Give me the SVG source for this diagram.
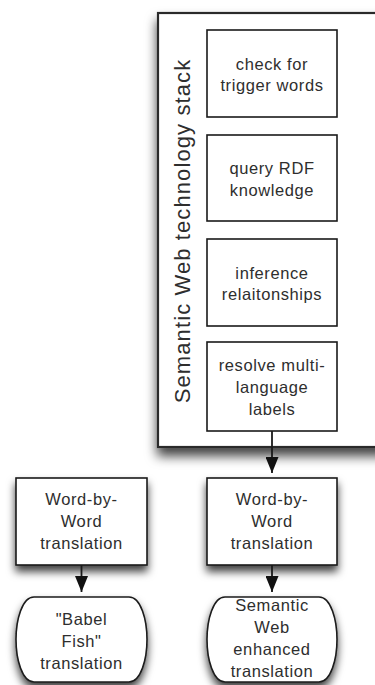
<svg xmlns="http://www.w3.org/2000/svg" width="375" height="685" viewBox="0 0 375 685">
  <defs>
    <style>
      .box { fill: #fff; stroke: #1a1a1a; stroke-width: 1.6; }
      .frame { fill: #fff; stroke: #2a2a2a; stroke-width: 2.2; }
      .lbl { font-family: "Liberation Sans", Arial, Helvetica, sans-serif; font-size: 16.5px; fill: #2e2e2e; text-anchor: middle; letter-spacing: 0.6px; }
      .title { font-family: "Liberation Sans", Arial, Helvetica, sans-serif; font-size: 22px; fill: #2e2e2e; text-anchor: middle; letter-spacing: 1.1px; }
      .conn { stroke: #1a1a1a; stroke-width: 1.8; fill: none; }
    </style>
    <filter id="shadow" x="-20%" y="-20%" width="140%" height="160%">
      <feDropShadow dx="0" dy="6" stdDeviation="4.5" flood-color="#000" flood-opacity="0.75"/>
    </filter>
    <filter id="bigShadow" x="-20%" y="-10%" width="140%" height="125%">
      <feDropShadow dx="0" dy="8" stdDeviation="6" flood-color="#000" flood-opacity="0.75"/>
    </filter>
    <marker id="arrow" markerUnits="userSpaceOnUse" markerWidth="16" markerHeight="13" refX="16" refY="6.5" orient="auto">
      <path d="M0,0 L16,6.5 L0,13 Z" fill="#111"/>
    </marker>
  </defs>

  <!-- outer container: Semantic Web technology stack -->
  <g id="stack">
    <rect class="frame" x="158" y="13" width="240" height="434" filter="url(#bigShadow)"/>
    <text class="title" transform="translate(190,231) rotate(-90)">Semantic Web technology stack</text>
  </g>

  <g id="trigger-words">
    <rect class="box" x="207" y="30" width="130" height="87"/>
    <text class="lbl" x="272"><tspan x="272" y="69.5">check for</tspan><tspan x="272" y="91">trigger words</tspan></text>
  </g>

  <g id="query-rdf">
    <rect class="box" x="207" y="135" width="130" height="86"/>
    <text class="lbl" x="272"><tspan x="272" y="174">query RDF</tspan><tspan x="272" y="195.5">knowledge</tspan></text>
  </g>

  <g id="inference">
    <rect class="box" x="207" y="239" width="130" height="87"/>
    <text class="lbl" x="272"><tspan x="272" y="278.5">inference</tspan><tspan x="272" y="300">relaitonships</tspan></text>
  </g>

  <g id="multi-language">
    <rect class="box" x="207" y="342" width="130" height="89"/>
    <text class="lbl" x="272"><tspan x="272" y="370.5">resolve multi-</tspan><tspan x="272" y="392.5">language</tspan><tspan x="272" y="414.5">labels</tspan></text>
  </g>

  <g id="word-by-word-left">
    <rect class="box" x="16" y="478" width="131" height="87" filter="url(#shadow)"/>
    <text class="lbl" x="81.5"><tspan x="81.5" y="505">Word-by-</tspan><tspan x="81.5" y="527">Word</tspan><tspan x="81.5" y="549">translation</tspan></text>
  </g>

  <g id="word-by-word-right">
    <rect class="box" x="207" y="478" width="130" height="87" filter="url(#shadow)"/>
    <text class="lbl" x="272"><tspan x="272" y="505">Word-by-</tspan><tspan x="272" y="527">Word</tspan><tspan x="272" y="549">translation</tspan></text>
  </g>

  <g id="babel-fish">
    <path class="box" filter="url(#shadow)" d="M34,597 H129 C141,597 147,620 147,639.5 C147,659 141,682 129,682 H34 C22,682 16,659 16,639.5 C16,620 22,597 34,597 Z"/>
    <text class="lbl" x="81.5"><tspan x="81.5" y="625">"Babel</tspan><tspan x="81.5" y="647">Fish"</tspan><tspan x="81.5" y="669">translation</tspan></text>
  </g>

  <g id="semantic-translation">
    <path class="box" filter="url(#shadow)" d="M225,597 H319 C331,597 337,620 337,639.5 C337,659 331,682 319,682 H225 C213,682 207,659 207,639.5 C207,620 213,597 225,597 Z"/>
    <text class="lbl" x="272"><tspan x="272" y="611">Semantic</tspan><tspan x="272" y="633">Web</tspan><tspan x="272" y="655">enhanced</tspan><tspan x="272" y="677">translation</tspan></text>
  </g>

  <!-- connectors -->
  <g id="connectors">
    <line class="conn" x1="272" y1="431" x2="272" y2="473" marker-end="url(#arrow)"/>
    <line class="conn" x1="81.5" y1="565" x2="81.5" y2="592" marker-end="url(#arrow)"/>
    <line class="conn" x1="272" y1="565" x2="272" y2="592" marker-end="url(#arrow)"/>
  </g>
</svg>
